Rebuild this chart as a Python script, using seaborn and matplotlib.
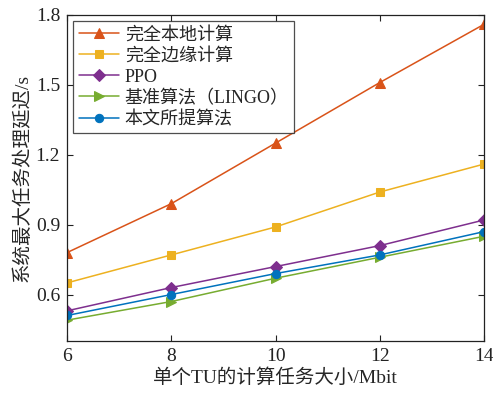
import matplotlib
matplotlib.use("Agg")
import matplotlib.pyplot as plt
import seaborn as sns
import pandas as pd

x_vals = [6, 8, 10, 12, 14]
local_full = [0.78, 0.99, 1.25, 1.51, 1.76]
edge_full = [0.65, 0.77, 0.89, 1.04, 1.16]
ppo = [0.53, 0.63, 0.72, 0.81, 0.92]
lingo = [0.49, 0.57, 0.67, 0.76, 0.85]
proposed = [0.51, 0.60, 0.69, 0.77, 0.87]

series_names = ["完全本地计算", "完全边缘计算", "PPO", "基准算法（LINGO）", "本文所提算法"]
series_vals = [local_full, edge_full, ppo, lingo, proposed]
colors = ["#D95319", "#EDB120", "#7E2F8E", "#77AC30", "#0072BD"]
markers = ["^", "s", "D", ">", "o"]
msizes = [7, 6, 6, 7, 6]

sns.set_style("ticks")
plt.rcParams['font.family'] = ['Liberation Serif', 'Noto Sans CJK SC']
plt.rcParams['axes.unicode_minus'] = False

rows = []
for name, vals in zip(series_names, series_vals):
    for xv, yv in zip(x_vals, vals):
        rows.append({"x": xv, "y": yv, "s": name})
df = pd.DataFrame(rows)

fig = plt.figure(figsize=(4.93, 3.93), dpi=100)
ax = fig.add_axes([0.136, 0.132, 0.846, 0.830])

for name, c, m, ms in zip(series_names, colors, markers, msizes):
    sub = df[df["s"] == name]
    sns.lineplot(data=sub, x="x", y="y", ax=ax, color=c, marker=m,
                 markersize=ms, markeredgecolor=c, linewidth=1.1, label=name)

ax.set_xlim(6, 14)
ax.set_ylim(0.4, 1.8)
ax.set_xticks([6, 8, 10, 12, 14])
ax.set_yticks([0.6, 0.9, 1.2, 1.5, 1.8])
ax.set_yticklabels(["0.6", "0.9", "1.2", "1.5", "1.8"])
ax.tick_params(direction="in", top=True, right=True, labelsize=14, length=4, width=0.8,
               colors="#222222", pad=5)
for sp in ax.spines.values():
    sp.set_linewidth(0.9)
    sp.set_color("#222222")

ax.set_xlabel("单个TU的计算任务大小/Mbit", fontsize=14, labelpad=2)
ax.set_ylabel("系统最大任务处理延迟/s", fontsize=14, labelpad=3)

leg = ax.legend(loc="upper left", fontsize=13, frameon=True, fancybox=False,
                edgecolor="#222222", borderpad=0.3, labelspacing=0.22,
                handlelength=2.2, handletextpad=0.35, borderaxespad=0.35)
leg.get_frame().set_linewidth(0.9)

fig.savefig("out.png", dpi=100)
